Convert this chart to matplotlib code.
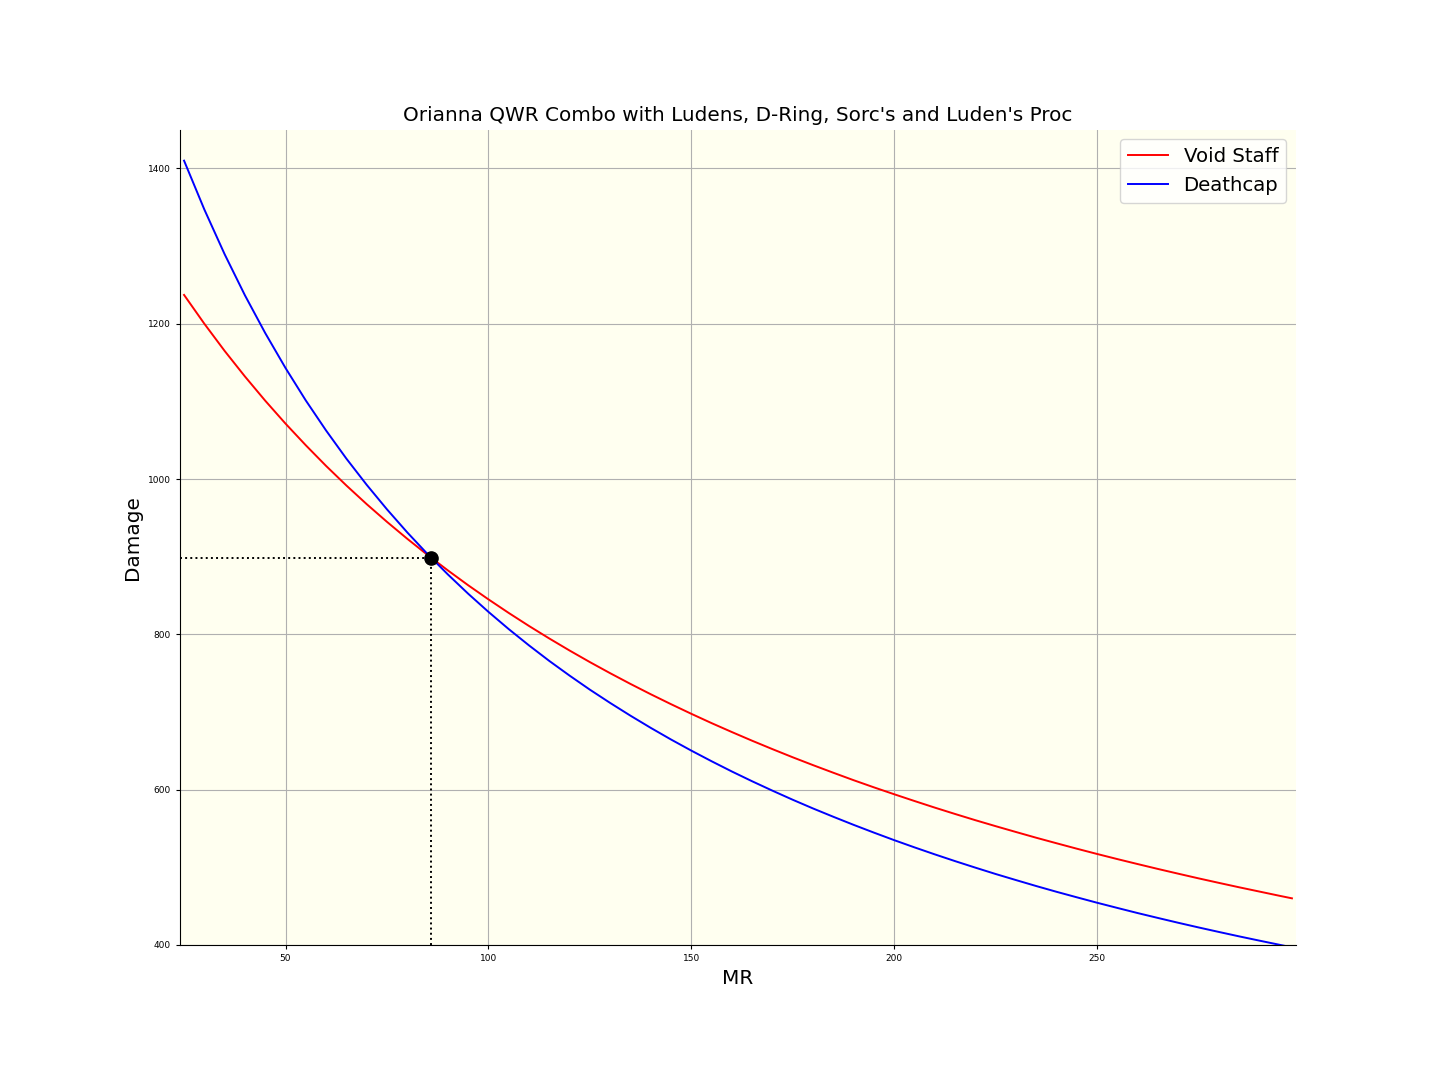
import matplotlib
matplotlib.use("Agg")
import matplotlib.pyplot as plt

mr = [25, 30, 35, 40, 45, 50, 55, 60, 65, 70, 75, 80, 85, 90, 95, 100,
      105, 110, 115, 120, 125, 130, 135, 140, 145, 150, 155, 160, 165, 170,
      175, 180, 185, 190, 195, 200, 205, 210, 215, 220, 225, 230, 235, 240,
      245, 250, 255, 260, 265, 270, 275, 280, 285, 290, 295, 298]

void_staff = [1237.1, 1200.0, 1165.0, 1132.1, 1100.9, 1071.4, 1043.5, 1016.9,
              991.7, 967.7, 944.9, 923.1, 902.3, 882.4, 863.3, 845.1, 827.6,
              810.8, 794.7, 779.2, 764.3, 750.0, 736.2, 722.9, 710.1, 697.7,
              685.7, 674.2, 663.0, 652.2, 641.7, 631.6, 621.8, 612.2, 603.0,
              594.1, 585.4, 576.9, 568.7, 560.7, 553.0, 545.5, 538.1, 531.0,
              524.0, 517.2, 510.6, 504.2, 497.9, 491.8, 485.8, 480.0, 474.3,
              468.8, 463.3, 460.1]

deathcap = [1410.0, 1347.1, 1289.5, 1236.6, 1188.0, 1143.0, 1101.2, 1062.5,
            1026.3, 992.6, 961.0, 931.3, 903.4, 877.2, 852.4, 829.0, 806.8,
            785.8, 765.8, 746.9, 728.8, 711.7, 695.3, 679.6, 664.6, 650.3,
            636.6, 623.4, 610.8, 598.7, 587.0, 575.8, 565.1, 554.7, 544.7,
            535.0, 525.7, 516.7, 508.0, 499.6, 491.4, 483.6, 475.9, 468.5,
            461.4, 454.4, 447.7, 441.1, 434.8, 428.6, 422.6, 416.8, 411.1,
            405.6, 400.2, 397.0]

cross_mr = 85.9
cross_dmg = 898.7

fig = plt.figure(figsize=(14.4, 10.8), dpi=100)
fig.subplots_adjust(left=0.125, right=0.9, bottom=0.125, top=0.88)
ax = fig.add_subplot(111)
ax.set_facecolor('#fffff0')

ax.plot(mr, void_staff, color='red', lw=1.4, label='Void Staff', zorder=3)
ax.plot(mr, deathcap, color='blue', lw=1.4, label='Deathcap', zorder=3)

ax.set_xlim(24, 299)
ax.set_ylim(400, 1450)

ax.plot([24, cross_mr], [cross_dmg, cross_dmg], color='black', ls=':', lw=1.4, zorder=4)
ax.plot([cross_mr, cross_mr], [400, cross_dmg], color='black', ls=':', lw=1.4, zorder=4)
ax.plot([cross_mr], [cross_dmg], 'o', color='black', markersize=9.5, zorder=5)

ax.grid(True, color='#b0b0b0', lw=0.8)
ax.set_axisbelow(True)
ax.spines['top'].set_visible(False)
ax.spines['right'].set_visible(False)

ax.set_title("Orianna QWR Combo with Ludens, D-Ring, Sorc's and Luden's Proc", fontsize=14.4)
ax.set_xlabel('MR', fontsize=14.4)
ax.set_ylabel('Damage', fontsize=14.4)
ax.tick_params(labelsize=6.5, length=3)
ax.legend(loc='upper right', fontsize=14.2)

fig.savefig('out.png', dpi=100)
